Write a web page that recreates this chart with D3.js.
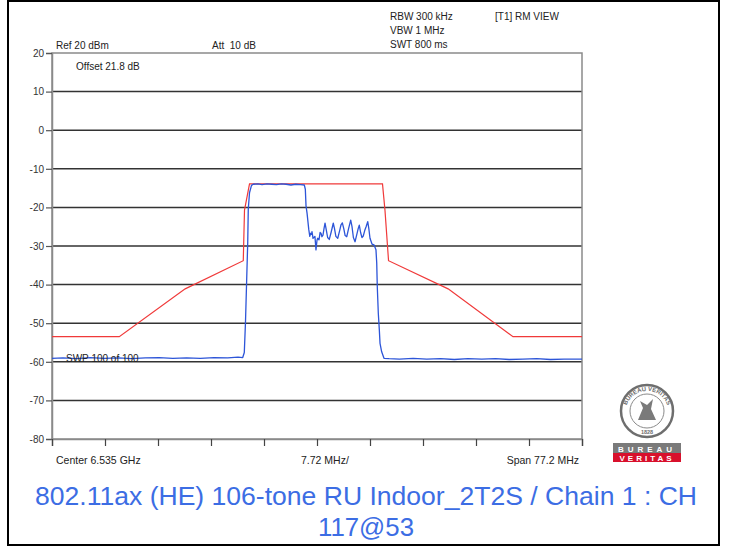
<!DOCTYPE html>
<html>
<head>
<meta charset="utf-8">
<script src="https://cdn.jsdelivr.net/npm/d3@7"></script>
<style>
  html, body { margin: 0; padding: 0; background: #fff; }
  svg { display: block; font-family: "Liberation Sans", Arial, sans-serif; }
</style>
</head>
<body>
<svg id="chart" width="731" height="546"></svg>
<script>
// ---------- data ----------
const yTicks = [20, 10, 0, -10, -20, -30, -40, -50, -60, -70, -80];
const xTickOffsets = [-38.6, -30.88, -23.16, -15.44, -7.72, 0, 7.72, 15.44, 23.16, 30.88, 38.6]; // MHz from centre
const headerLines = ["RBW 300 kHz", "VBW 1 MHz", "SWT 800 ms"];
const titleLines = ["802.11ax (HE) 106-tone RU Indoor_2T2S / Chain 1 : CH", "117@53"];

// limit line (red): offset MHz, level dBm
const maskFreq  = [-38.6, -28.8, -19.2, -10.74, -10.56, -9.83, 9.54, 9.9, 10.42, 19.1, 28.55, 38.6];
const maskLevel = [-53.5, -53.5, -41.1, -33.8, -20.7, -13.9, -13.9, -20.7, -33.8, -41.1, -53.5, -53.5];

// measured trace (blue): offset MHz, level dBm
const traceFreq = [
  -38.6, -37.0, -35.0, -33.0, -31.0, -29.0, -27.0, -25.0, -23.0, -21.0, -19.0, -17.0, -15.0, -13.0, -11.5,
  -10.82, -10.59, -10.42, -10.27, -10.09, -10.01, -9.83, -9.54, -9.28,
  -8.6, -8.0, -7.3, -6.6, -5.9, -5.2, -4.5, -3.8, -3.1, -2.4, -1.85,
  -1.70, -1.60, -1.45, -1.20, -1.05, -0.92, -0.80, -0.73, -0.58, -0.30, -0.15, 0.00, 0.10, 0.29, 0.45,
  0.58, 0.72, 0.87, 1.02, 1.17, 1.35, 1.55, 1.79, 2.05, 2.37, 2.55, 2.75, 3.02, 3.30, 3.50, 3.69,
  3.90, 4.10, 4.33, 4.60, 4.91, 5.10, 5.30, 5.54, 5.80, 6.00, 6.16, 6.35, 6.55, 6.74, 6.95, 7.15,
  7.39, 7.55, 7.72, 8.01, 8.30, 8.59, 8.70, 8.78, 8.93, 9.08, 9.18, 9.42, 9.76,
  10.5, 12.0, 14.0, 16.0, 18.0, 20.0, 22.0, 24.0, 26.0, 28.0, 30.0, 32.0, 34.0, 36.0, 38.6
];
const traceLevel = [
  -59.1, -59.0, -59.2, -58.9, -59.1, -59.0, -59.2, -59.0, -58.9, -59.1, -59.0, -59.1, -58.9, -59.0, -58.8,
  -58.9, -57.6, -49.9, -40.4, -29.1, -20.4, -16.2, -14.3, -14.0,
  -13.9, -14.1, -13.9, -14.0, -14.1, -13.9, -14.0, -14.2, -14.0, -14.1, -14.2,
  -15.3, -19.6, -21.5, -25.7, -27.5, -26.7, -27.0, -26.3, -28.0, -27.5, -31.0, -28.5, -28.0, -28.4, -26.5,
  -26.7, -27.6, -27.2, -25.5, -24.1, -25.8, -27.8, -28.3, -26.5, -24.1, -25.5, -27.5, -28.0, -26.0, -24.5, -24.0,
  -25.5, -27.3, -27.6, -25.5, -23.3, -25.0, -27.8, -28.9, -27.0, -25.5, -24.6, -26.5, -27.8, -27.4, -26.0, -25.0,
  -23.7, -25.5, -28.0, -29.5, -29.7, -31.0, -34.4, -40.5, -47.4, -51.8, -55.2, -57.4, -59.1,
  -59.2, -59.3, -59.1, -59.3, -59.2, -59.4, -59.2, -59.3, -59.2, -59.4, -59.3, -59.2, -59.4, -59.3, -59.3
];

// ---------- layout ----------
const svg = d3.select("#chart");
const L = 52, R = 582, T = 53, B = 439;
const x = d3.scaleLinear().domain([-38.6, 38.6]).range([L, R]);
const y = d3.scaleLinear().domain([-80, 20]).range([B, T]);

// outer frame
svg.append("rect").attr("x", 8).attr("y", 1).attr("width", 711).attr("height", 544)
  .attr("fill", "none").attr("stroke", "#000").attr("stroke-width", 2);

// grid lines
svg.append("g").selectAll("line").data(yTicks.filter(d => d < 20 && d > -80)).join("line")
  .attr("x1", L).attr("x2", R).attr("y1", d => y(d)).attr("y2", d => y(d))
  .attr("stroke", "#333").attr("stroke-width", 1.5);

// plot frame
svg.append("rect").attr("x", L).attr("y", T).attr("width", R - L).attr("height", B - T)
  .attr("fill", "none").attr("stroke", "#8a8a8a").attr("stroke-width", 1.5);

// y axis
const yAxis = d3.axisLeft(y).tickValues(yTicks).tickSize(6).tickPadding(2).tickFormat(d => String(d));
const gy = svg.append("g").attr("transform", `translate(${L},0)`).call(yAxis);
gy.select(".domain").attr("stroke", "#8a8a8a").attr("stroke-width", 1.5);
gy.selectAll(".tick line").attr("stroke", "#555").attr("stroke-width", 1.2);
gy.selectAll(".tick text").attr("font-size", 10).attr("fill", "#333")
  .attr("font-family", "Liberation Sans, Arial, sans-serif");

// x axis ticks
const xAxis = d3.axisBottom(x).tickValues(xTickOffsets).tickSize(7).tickFormat("");
const gx = svg.append("g").attr("transform", `translate(0,${B})`).call(xAxis);
gx.select(".domain").attr("stroke", "#8a8a8a").attr("stroke-width", 1.5);
gx.selectAll(".tick line").attr("stroke", "#444").attr("stroke-width", 1.2);

// mask line
const line = d3.line().x(d => x(d[0])).y(d => y(d[1]));
svg.append("path").datum(d3.zip(maskFreq, maskLevel)).attr("d", line)
  .attr("fill", "none").attr("stroke", "#f03a3a").attr("stroke-width", 1.2);

// trace
svg.append("path").datum(d3.zip(traceFreq, traceLevel)).attr("d", line)
  .attr("fill", "none").attr("stroke", "#2d55d8").attr("stroke-width", 1.3).attr("stroke-linejoin", "round");

// texts
const txt = (s, xx, yy, opts = {}) => svg.append("text").text(s).attr("x", xx).attr("y", yy)
  .attr("font-size", opts.size || 10).attr("fill", opts.fill || "#222")
  .attr("text-anchor", opts.anchor || "start");

headerLines.forEach((s, i) => txt(s, 390, 20 + i * 14));
txt("[T1] RM VIEW", 495, 20);
txt("Ref 20 dBm", 56, 49);
txt("Att  10 dB", 212, 49).style("white-space", "pre");
txt("Offset 21.8 dB", 76, 70);
txt("SWP 100 of 100", 66, 362);
txt("Center 6.535 GHz", 56, 464, { size: 10.5 });
txt("7.72 MHz/", 301, 464, { size: 10.5 });
txt("Span 77.2 MHz", 579, 464, { size: 10.5, anchor: "end" });

// title
const titleWidths = [662, 96];
titleLines.forEach((s, i) => svg.append("text").text(s)
  .attr("x", 366).attr("y", 505 + i * 31).attr("text-anchor", "middle")
  .attr("font-size", 25).attr("fill", "#3c6de4")
  .attr("textLength", titleWidths[i]).attr("lengthAdjust", "spacingAndGlyphs"));

// logo (Bureau Veritas)
const logo = svg.append("g").attr("transform", "translate(647,411)");
logo.append("circle").attr("r", 26).attr("fill", "#fff").attr("stroke", "#6e6e6e").attr("stroke-width", 2.5);
logo.append("circle").attr("r", 17).attr("fill", "#fff").attr("stroke", "#8a8a8a").attr("stroke-width", 1);
logo.append("path").attr("id", "logoArc").attr("d", "M -21 6 A 21.5 21.5 0 1 1 21 6").attr("fill", "none");
logo.append("text").attr("font-size", 6).attr("fill", "#6e6e6e").attr("font-weight", "bold")
  .append("textPath").attr("href", "#logoArc").attr("startOffset", "50%").attr("text-anchor", "middle")
  .text("BUREAU VERITAS");
logo.append("text").attr("y", 23).attr("text-anchor", "middle").attr("font-size", 5.5)
  .attr("fill", "#6e6e6e").attr("font-weight", "bold").text("1828");
logo.append("path").attr("d", "M -9 9 L -4 -3 L -7 -10 L 0 -6 L 6 -12 L 4 -2 L 9 9 Z")
  .attr("fill", "#7a7a7a");
svg.append("rect").attr("x", 613).attr("y", 443).attr("width", 68).attr("height", 10).attr("fill", "#7a7a7a");
svg.append("rect").attr("x", 613).attr("y", 453).attr("width", 68).attr("height", 9).attr("fill", "#d8102c");
svg.append("text").attr("x", 647).attr("y", 451.5).attr("text-anchor", "middle").attr("font-size", 8)
  .attr("font-weight", "bold").attr("fill", "#fff").attr("letter-spacing", 4).text("BUREAU");
svg.append("text").attr("x", 647).attr("y", 461).attr("text-anchor", "middle").attr("font-size", 8)
  .attr("font-weight", "bold").attr("fill", "#fff").attr("letter-spacing", 3).text("VERITAS");
</script>
</body>
</html>
